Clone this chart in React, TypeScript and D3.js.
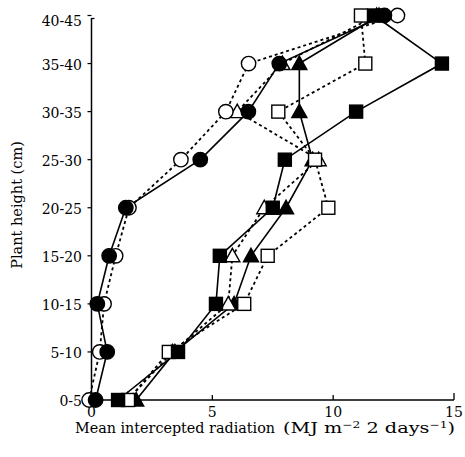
import React from "react";
import * as d3 from "d3";

const categories = ["0-5", "5-10", "10-15", "15-20", "20-25", "25-30", "30-35", "35-40", "40-45"];
const xTicks = [0, 5, 10, 15];

const filledCircle = [0.17, 0.65, 0.24, 0.73, 1.42, 4.5, 6.49, 7.77, 12.12];
const openCircle = [-0.1, 0.34, 0.52, 1.0, 1.55, 3.7, 5.56, 6.5, 12.66];
const filledSquare = [1.1, 3.58, 5.15, 5.31, 7.5, 8.0, 10.95, 14.5, 11.7];
const openSquare = [1.51, 3.2, 6.32, 7.29, 9.8, 9.25, 7.73, 11.33, 11.15];
const filledTriangle = [1.85, 3.45, 5.9, 6.6, 8.05, 9.15, 8.6, 8.6, 11.9];
const openTriangle = [1.5, 3.35, 5.66, 5.83, 7.15, 9.4, 6.03, 7.9, 11.8];

type Shape = "circle" | "square" | "triangle";
interface Series { values: number[]; shape: Shape; filled: boolean; }

// drawing order (bottom to top)
const seriesList: Series[] = [
  { values: filledTriangle, shape: "triangle", filled: true },
  { values: openTriangle, shape: "triangle", filled: false },
  { values: openSquare, shape: "square", filled: false },
  { values: filledSquare, shape: "square", filled: true },
  { values: openCircle, shape: "circle", filled: false },
  { values: filledCircle, shape: "circle", filled: true },
];

const W = 465, H = 457;
const FONT = "'DejaVu Serif', 'Liberation Serif', serif";

export default function App() {
  const x = d3.scaleLinear().domain([0, 15]).range([91.5, 454]);
  const y = d3.scalePoint<string>().domain(categories).range([400, 15.5]);
  const axisX = x(0);
  const axisY = 400;

  const line = (vals: number[]) =>
    d3.line<number>().x((v) => x(v)).y((_, i) => y(categories[i]) as number)(vals) || "";

  const marker = (s: Series, v: number, i: number, key: string) => {
    const cx = x(v);
    const cy = y(categories[i]) as number;
    const fill = s.filled ? "#000" : "#fff";
    const common = { fill, stroke: "#000", strokeWidth: 1.4 };
    if (s.shape === "circle") return <circle key={key} cx={cx} cy={cy} r={7.2} {...common} />;
    if (s.shape === "square") return <rect key={key} x={cx - 6.5} y={cy - 6.5} width={13} height={13} {...common} />;
    return (
      <path key={key} d={`M${cx},${cy - 7.5}L${cx + 7.5},${cy + 6}L${cx - 7.5},${cy + 6}Z`} {...common} strokeLinejoin="miter" />
    );
  };

  return (
    <svg width={W} height={H} style={{ position: "absolute", left: 0, top: 0, background: "#fff", fontFamily: FONT }}>
      <rect width={W} height={H} fill="#fff" />
      {/* axes */}
      <line x1={axisX} x2={axisX} y1={18} y2={axisY} stroke="#000" strokeWidth={1.5} />
      <line x1={axisX} x2={axisX + 3} y1={18.5} y2={18.5} stroke="#000" strokeWidth={1.3} />
      <line x1={axisX} x2={x(15)} y1={axisY} y2={axisY} stroke="#000" strokeWidth={1.5} />
      {xTicks.filter((t) => t > 0).map((t) => (
        <line key={"xt" + t} x1={x(t)} x2={x(t)} y1={axisY} y2={axisY - (t === 15 ? 7 : 5)} stroke="#000" strokeWidth={1.3} />
      ))}
      {xTicks.map((t) => (
        <text key={"xl" + t} x={x(t)} y={416.5} textAnchor="middle" fontSize={14}>{t}</text>
      ))}
      {categories.map((c) => (
        <line key={"yt" + c} x1={axisX - 4} x2={axisX} y1={y(c) as number} y2={y(c) as number} stroke="#000" strokeWidth={1.2} />
      ))}
      {categories.map((c, i) => (
        <text key={"yl" + c} x={82} y={(y(c) as number) + (i === categories.length - 1 ? 5 : 1)} dy="0.36em" textAnchor="end" fontSize={14}>{c}</text>
      ))}
      <text x={75} y={432.5} fontSize={14.5} textLength={200} lengthAdjust="spacingAndGlyphs">
        Mean intercepted radiation
      </text>
      <text x={283} y={432.5} fontSize={15} textLength={172} lengthAdjust="spacingAndGlyphs">
        (MJ m<tspan fontSize={9.5} dy={-5}>−2</tspan><tspan dy={5}> 2 days</tspan><tspan fontSize={9.5} dy={-5}>−1</tspan><tspan dy={5}>)</tspan>
      </text>
      <text transform="translate(22,205) rotate(-90)" textAnchor="middle" fontSize={14.5}>Plant height (cm)</text>
      {/* lines */}
      {seriesList.map((s, k) => (
        <path key={"l" + k} d={line(s.values)} fill="none" stroke="#000" strokeWidth={s.filled ? 1.6 : 1.8}
          strokeDasharray={s.filled ? undefined : "3,3"} />
      ))}
      {/* markers */}
      {seriesList.map((s, k) => s.values.map((v, i) => marker(s, v, i, `m${k}-${i}`)))}
    </svg>
  );
}
